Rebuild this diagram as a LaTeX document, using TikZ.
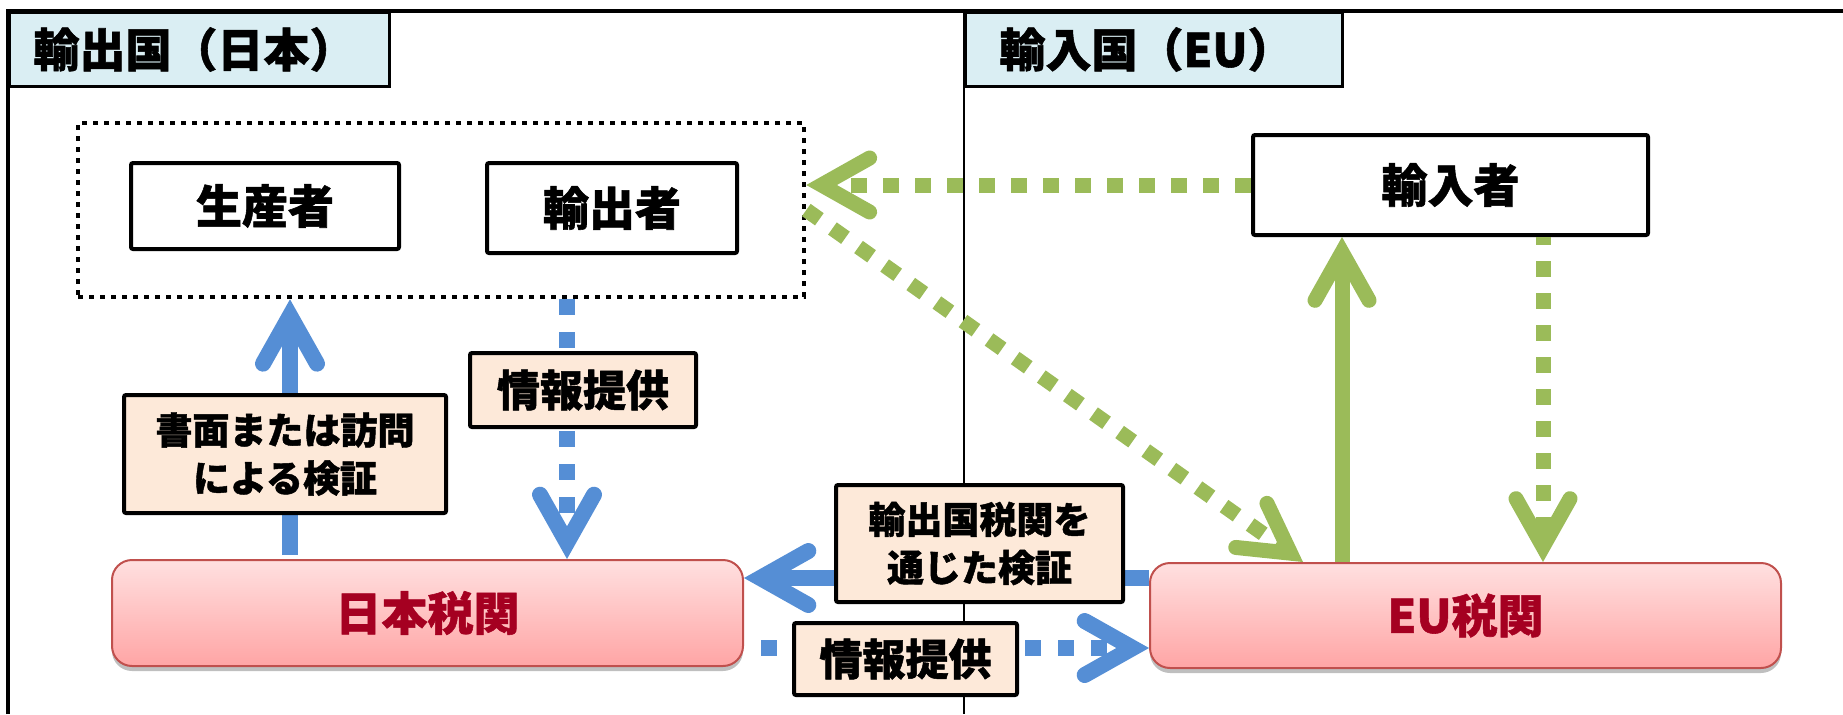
\documentclass[tikz,border=0pt]{standalone}
\usepackage{fontspec}
\newfontfamily\jp[BoldFeatures={FakeBold=1.2}]{Noto Sans CJK JP}
\usetikzlibrary{arrows.meta,shadows}
\definecolor{titlefill}{HTML}{DAEEF3}
\definecolor{labfill}{HTML}{FDE9D9}
\definecolor{ablue}{HTML}{558ED5}
\definecolor{agreen}{HTML}{9BBB59}
\definecolor{redtext}{HTML}{A50021}
\definecolor{redborder}{HTML}{C0504D}
\definecolor{redtop}{HTML}{FFE0E0}
\definecolor{redbot}{HTML}{FFA5A5}
\begin{document}
\begin{tikzpicture}[x=0.5pt,y=-0.5pt,
  bigfont/.style={font=\jp\bfseries\fontsize{23pt}{27pt}\selectfont},
  midfont/.style={font=\jp\bfseries\fontsize{21.5pt}{26pt}\selectfont},
  smallfont/.style={font=\jp\bfseries\fontsize{18.5pt}{24pt}\selectfont},
  titlebox/.style={draw=black, line width=1.5pt, fill=titlefill, anchor=north west, align=left, bigfont, inner ysep=0pt, minimum height=37pt},
  actor/.style={draw=black, line width=2pt, rounded corners=1pt, fill=white, bigfont, inner sep=0pt},
  lab/.style={draw=black, line width=2pt, rounded corners=1pt, fill=labfill, inner sep=0pt, align=center},
  customs/.style={draw=redborder, line width=1pt, rounded corners=10pt, top color=redtop, bottom color=redbot, text=redtext, bigfont, inner sep=0pt, drop shadow={shadow xshift=0pt, shadow yshift=-2.5pt, opacity=0.25, fill=black}},
  grp/.style={draw=black, line width=2.3pt, dash pattern=on 2.3pt off 3.2pt, inner sep=0pt},
  tipb/.style={-{Straight Barb[length=24pt, width=27pt, line cap=round, line join=miter]}},
  bluesolid/.style={draw=ablue, line width=8pt, tipb},
  bluedot/.style={draw=ablue, line width=8pt, dash pattern=on 8pt off 8.5pt, tipb},
  greensolid/.style={draw=agreen, line width=7.5pt, tipb},
  greendot/.style={draw=agreen, line width=7.5pt, dash pattern=on 8pt off 8pt, tipb},
]
\useasboundingbox (0,0) rectangle (1843,714);
\clip (0,0) rectangle (1843,714);
% frame and divider
\draw[line width=1.75pt] (8,714) -- (8,11) -- (1843,11);
\draw[line width=1.25pt] (964,11) -- (964,714);
% titles
\node[titlebox, minimum width=190pt, inner xsep=12pt, text width=166pt] (t1) at (8,11) {輸出国（日本）};
\node[titlebox, minimum width=188.5pt, inner xsep=17pt, text width=154.5pt] (t2) at (964,11) {輸入国（EU）};
% group and actors
\node[grp, minimum width=363pt, minimum height=87pt] (grp) at (441,210) {};
\node[actor, minimum width=134pt, minimum height=43pt] (prod) at (265,206) {生産者};
\node[actor, minimum width=125pt, minimum height=45pt] (exp) at (612,208) {輸出者};
\node[actor, minimum width=197.5pt, minimum height=50pt] (imp) at (1450.5,185) {輸入者};
% customs
\node[customs, minimum width=315.5pt, minimum height=53pt] (jpc) at (427.5,613) {日本税関};
\node[customs, minimum width=315.5pt, minimum height=52.5pt] (euc) at (1465.5,615.5) {EU税関};
% helper coordinates
\coordinate (xa) at (290,0);
\coordinate (xb) at (567,0);
\coordinate (ya) at (0,578);
\coordinate (yb) at (0,648);
\coordinate (xc) at (1342,0);
\coordinate (xd) at (1543,0);
\coordinate (xe) at (1303,0);
% connectors
\draw[bluesolid, shorten <=2pt] (jpc.north -| xa) -- (grp.south -| xa);
\draw[bluedot] (grp.south -| xb) -- (jpc.north -| xb);
\draw[bluesolid] (euc.west |- ya) -- (jpc.east |- ya);
\draw[bluedot, dash phase=8pt] (jpc.east |- yb) -- (euc.west |- yb);
\draw[greendot] (imp.west) -- (grp.east |- imp.west);
\draw[greendot] (grp.east) -- (euc.north -| xe);
\draw[greensolid] (euc.north -| xc) -- (imp.south -| xc);
\draw[greendot, dash phase=4pt] (imp.south -| xd) -- (euc.north -| xd);
% labels
\node[lab, smallfont, minimum width=161pt, minimum height=59pt] (l1) at (285,454) {書面または訪問\\による検証};
\node[lab, midfont, minimum width=113pt, minimum height=37pt] (l2) at (583,390) {情報提供};
\node[lab, smallfont, minimum width=143.5pt, minimum height=58.5pt] (l3) at (979.5,543.5) {輸出国税関を\\通じた検証};
\node[lab, midfont, minimum width=111.5pt, minimum height=36pt] (l4) at (905.5,659) {情報提供};
\end{tikzpicture}
\end{document}
